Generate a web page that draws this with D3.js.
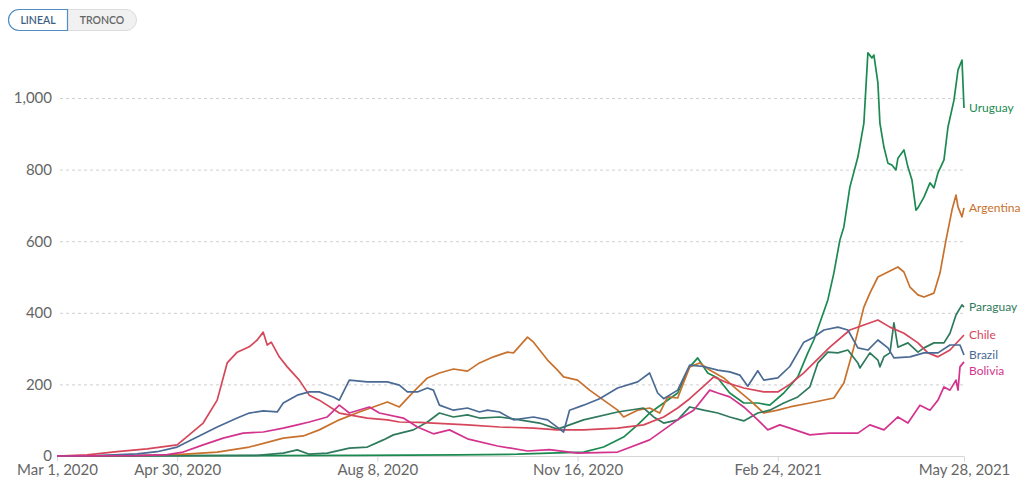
<!DOCTYPE html>
<html>
<head>
<meta charset="utf-8">
<script src="https://cdnjs.cloudflare.com/ajax/libs/d3/7.8.5/d3.min.js"></script>
<style>
  html, body { margin: 0; padding: 0; background: #fff; }
  body { font-family: Lato, "Open Sans", sans-serif; }
  svg text { font-family: Lato, "Open Sans", sans-serif; }
</style>
</head>
<body>
<svg id="chart" width="1031" height="483"></svg>
<script>
// values: [days since Mar 1 2020, cases per million]
var startDate = new Date(2020, 2, 1);

var uruguay = [[0,0],[30,1],[60,2],[100,1],[150,2],[200,3],[230,5],[250,9],[263,11],[273,25],[283,53],[290,87],[296,120],[303,148],[310,176],[316,249],[320,274],[325,232],[330,218],[336,176],[343,148],[350,148],[356,142],[363,176],[370,221],[375,288],[378,324],[385,436],[388,511],[391,603],[393,640],[396,751],[400,835],[403,930],[405,1126],[407,1112],[408,1120],[410,1042],[411,930],[413,863],[415,818],[417,813],[419,799],[420,832],[423,855],[425,807],[427,771],[429,687],[430,693],[433,723],[436,763],[438,749],[440,791],[443,827],[445,919],[448,994],[450,1078],[452,1106],[453,972]];

var argentina = [[0,0],[40,1],[60,4],[80,11],[96,25],[113,50],[123,56],[131,73],[141,101],[151,123],[158,137],[165,151],[171,137],[178,179],[185,218],[191,232],[198,243],[205,237],[211,260],[218,277],[225,290],[228,288],[235,332],[238,318],[245,268],[250,240],[253,221],[260,212],[266,184],[273,156],[280,128],[283,109],[290,128],[296,134],[301,120],[305,165],[310,162],[316,249],[321,260],[326,240],[333,218],[340,184],[346,156],[353,120],[360,128],[366,137],[376,148],[388,162],[393,204],[398,304],[403,416],[406,455],[410,500],[415,514],[420,528],[423,514],[426,472],[430,450],[433,444],[438,455],[441,511],[444,603],[447,687],[449,729],[450,696],[452,668],[453,693]];

var paraguay = [[0,0],[60,0],[100,2],[113,8],[120,17],[126,5],[135,8],[146,22],[155,25],[163,45],[168,59],[178,73],[185,95],[191,120],[198,109],[205,115],[211,106],[221,109],[231,101],[241,92],[250,75],[263,101],[280,123],[293,134],[298,109],[303,92],[310,101],[316,137],[323,128],[330,120],[336,109],[343,98],[350,120],[356,128],[363,148],[370,165],[376,193],[380,260],[385,290],[390,288],[395,296],[400,260],[401,246],[406,288],[410,268],[411,249],[413,277],[416,288],[418,372],[420,304],[425,316],[430,290],[433,302],[438,316],[443,316],[446,343],[449,394],[452,422],[453,416]];

var chile = [[0,0],[15,3],[30,12],[45,20],[60,31],[66,59],[73,92],[80,156],[85,260],[90,290],[96,305],[100,324],[103,346],[105,310],[107,318],[111,277],[115,249],[121,212],[126,170],[131,156],[141,120],[155,106],[165,101],[171,95],[181,94],[188,92],[205,87],[221,81],[238,78],[250,73],[263,73],[280,78],[293,87],[303,109],[310,134],[316,160],[323,195],[328,221],[335,204],[343,190],[353,179],[360,179],[366,200],[373,232],[376,249],[386,304],[396,352],[403,366],[410,380],[416,360],[423,343],[430,316],[435,288],[440,277],[446,296],[453,338]];

var brazil = [[0,0],[20,1],[40,6],[50,12],[60,25],[70,53],[80,81],[90,106],[96,120],[103,126],[110,123],[113,148],[120,170],[126,179],[131,179],[138,165],[141,156],[146,212],[155,207],[165,207],[171,198],[175,179],[180,179],[185,190],[188,184],[191,142],[198,128],[205,134],[211,123],[215,128],[221,123],[228,101],[238,109],[245,101],[250,80],[253,67],[256,128],[263,142],[271,160],[280,190],[290,207],[296,232],[300,176],[303,160],[310,184],[316,254],[323,250],[330,240],[336,235],[341,226],[345,195],[350,238],[353,212],[360,218],[366,250],[373,318],[378,332],[383,352],[390,360],[395,352],[400,302],[405,296],[410,324],[415,302],[418,274],[426,277],[433,288],[440,288],[446,310],[451,310],[453,282]];

var bolivia = [[0,0],[40,1],[55,4],[63,11],[73,31],[83,50],[93,64],[103,67],[113,78],[120,87],[126,95],[135,109],[141,142],[146,120],[156,137],[161,120],[173,106],[180,81],[188,62],[196,73],[205,48],[220,28],[235,14],[246,18],[260,8],[280,11],[296,45],[310,101],[318,128],[326,184],[330,176],[336,165],[343,137],[350,101],[355,73],[361,87],[366,78],[376,59],[386,64],[400,64],[406,87],[413,73],[420,109],[425,92],[431,142],[436,128],[440,156],[443,193],[446,184],[449,212],[450,184],[451,249],[453,263]];

var countries = ["Uruguay", "Argentina", "Paraguay", "Chile", "Brazil", "Bolivia"];
var seriesData = [uruguay, argentina, paraguay, chile, brazil, bolivia];
var colors = ["#1b8a50", "#c8712d", "#2f7a5c", "#d6465a", "#4b6a94", "#d3338e"];

var yTicks = [0, 200, 400, 600, 800, 1000];
var xTickLabels = ["Mar 1, 2020", "Apr 30, 2020", "Aug 8, 2020", "Nov 16, 2020", "Feb 24, 2021", "May 28, 2021"];
var xTickDays = [0, 60, 160, 260, 360, 453];

function dayToDate(d) {
    return d3.timeDay.offset(startDate, d);
}

var svg = d3.select("#chart");

var x = d3.scaleTime()
    .domain([dayToDate(0), dayToDate(453)])
    .range([57, 964]);
var y = d3.scaleLinear()
    .domain([0, 1000])
    .range([456, 98]);

// toggle buttons top left
var btn = svg.append("g");
btn.append("rect").attr("x", 8.5).attr("y", 9.5).attr("width", 128).attr("height", 21)
    .attr("rx", 10.5).attr("fill", "#f1f1f1").attr("stroke", "#dcdcdc");
btn.append("path")
    .attr("d", "M67.5,9.5 H19 A10.5,10.5 0 0 0 19,30.5 H67.5 Z")
    .attr("fill", "#fff").attr("stroke", "#4f8fc6").attr("stroke-width", 1.2);
btn.append("text").attr("x", 38).attr("y", 24).attr("text-anchor", "middle")
    .attr("font-size", 10.5).attr("font-weight", 600).attr("fill", "#3d5f82").text("LINEAL");
btn.append("text").attr("x", 102).attr("y", 24).attr("text-anchor", "middle")
    .attr("font-size", 10.5).attr("font-weight", 600).attr("fill", "#666").text("TRONCO");

// grid
svg.append("g").selectAll("line")
    .data(yTicks.filter(function(d){ return d > 0; }))
    .join("line")
    .attr("x1", 60).attr("x2", 964)
    .attr("y1", function(d){ return y(d) + 0.5; })
    .attr("y2", function(d){ return y(d) + 0.5; })
    .attr("stroke", "#cfcfcf").attr("stroke-dasharray", "3,3");

// y axis
var yAxis = d3.axisLeft(y).tickValues(yTicks).tickFormat(d3.format(",")).tickSize(0).tickPadding(0);
var yg = svg.append("g").attr("transform", "translate(52,0)").call(yAxis);
yg.select(".domain").remove();
yg.selectAll("text").attr("font-size", 15).attr("fill", "#666").attr("font-family", "Lato, sans-serif");

// x axis
var xAxis = d3.axisBottom(x)
    .tickValues(xTickDays.map(dayToDate))
    .tickFormat(function(d, i){ return xTickLabels[i]; })
    .tickSize(5).tickSizeOuter(0).tickPadding(3);
var xg = svg.append("g").attr("transform", "translate(0,456.5)").call(xAxis);
xg.select(".domain").attr("stroke", "#d6d6d6").attr("d", "M57,0H964");
xg.selectAll(".tick line").attr("stroke", "#d6d6d6");
xg.selectAll("text").attr("font-size", 15).attr("fill", "#666").attr("font-family", "Lato, sans-serif");

// lines
var line = d3.line()
    .x(function(d){ return x(dayToDate(d[0])); })
    .y(function(d){ return y(d[1]); });

svg.append("g").selectAll("path")
    .data(seriesData)
    .join("path")
    .attr("d", line)
    .attr("fill", "none")
    .attr("stroke", function(d, i){ return colors[i]; })
    .attr("stroke-width", 1.7)
    .attr("stroke-linejoin", "round");

// end labels, nudged apart so they don't overlap
var labels = countries.map(function(c, i){
    var last = seriesData[i][seriesData[i].length - 1];
    return { name: c, color: colors[i], y: y(last[1]) };
});
labels.sort(function(a, b){ return a.y - b.y; });
for (var i = 1; i < labels.length; i++) {
    if (labels[i].y - labels[i-1].y < 16) labels[i].y = labels[i-1].y + 16;
}
svg.append("g").selectAll("text")
    .data(labels)
    .join("text")
    .attr("x", 969)
    .attr("y", function(d){ return d.y; })
    .attr("dy", "0.35em")
    .attr("font-size", 12)
    .attr("fill", function(d){ return d.color; })
    .text(function(d){ return d.name; });
</script>
</body>
</html>
